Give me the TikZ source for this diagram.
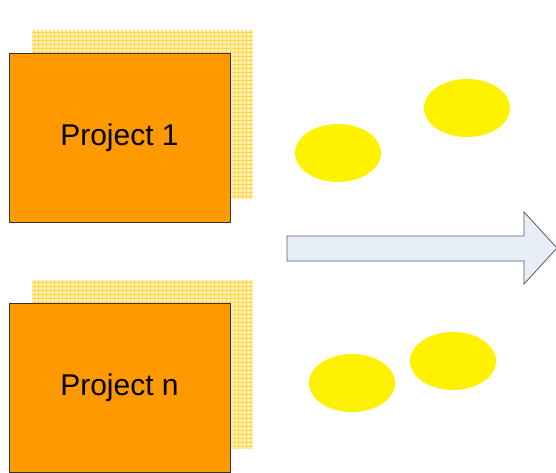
\documentclass[tikz,border=0pt]{standalone}
\usepackage{fontspec}
\setmainfont{Liberation Sans}
\usetikzlibrary{shapes.geometric}
\definecolor{projorange}{HTML}{FF9900}
\definecolor{gridfill}{HTML}{FFF1B8}
\definecolor{gridline}{HTML}{FFD84A}
\definecolor{arrowfill}{HTML}{E8EEF8}
\definecolor{arrowline}{HTML}{5A5A5A}
\begin{document}
\begin{tikzpicture}[x=1pt,y=-1pt,
  projbox/.style={draw=black!80,line width=0.8pt,fill=projorange,minimum width=221pt,minimum height=169pt,inner sep=0pt,font=\fontsize{30}{34}\selectfont},
  blob/.style={ellipse,fill=yellow,draw=none,minimum width=86pt,minimum height=58pt,inner sep=0pt},
  gridln/.style={gridline,line width=0.4pt}]
\useasboundingbox (0,0) rectangle (556,473);
% back grid sheets
\foreach \yo in {30,280}{
  \fill[gridfill] (32,\yo) rectangle (253,\yo+169);
  \foreach \gx in {34,38,...,252} \draw[gridln] (\gx,\yo) -- (\gx,\yo+169);
  \foreach \gy in {2,6,...,168} \draw[gridln] (32,\yo+\gy) -- (253,\yo+\gy);
}
\node[projbox] (p1) at (119.5,137.5) {Project 1};
\node[projbox] (pn) at (119.5,387.5) {Project n};
% blobs
\node[blob] (e1) at (338,153) {};
\node[blob] (e2) at (467,108) {};
\node[blob] (e3) at (352,383) {};
\node[blob] (e4) at (453,361) {};
% big arrow
\draw[arrowline,fill=arrowfill,line width=0.8pt,line join=miter]
  (287,236) -- (524,236) -- (524,212) -- (557,248) -- (524,284) -- (524,261) -- (287,261) -- cycle;
\end{tikzpicture}
\end{document}
